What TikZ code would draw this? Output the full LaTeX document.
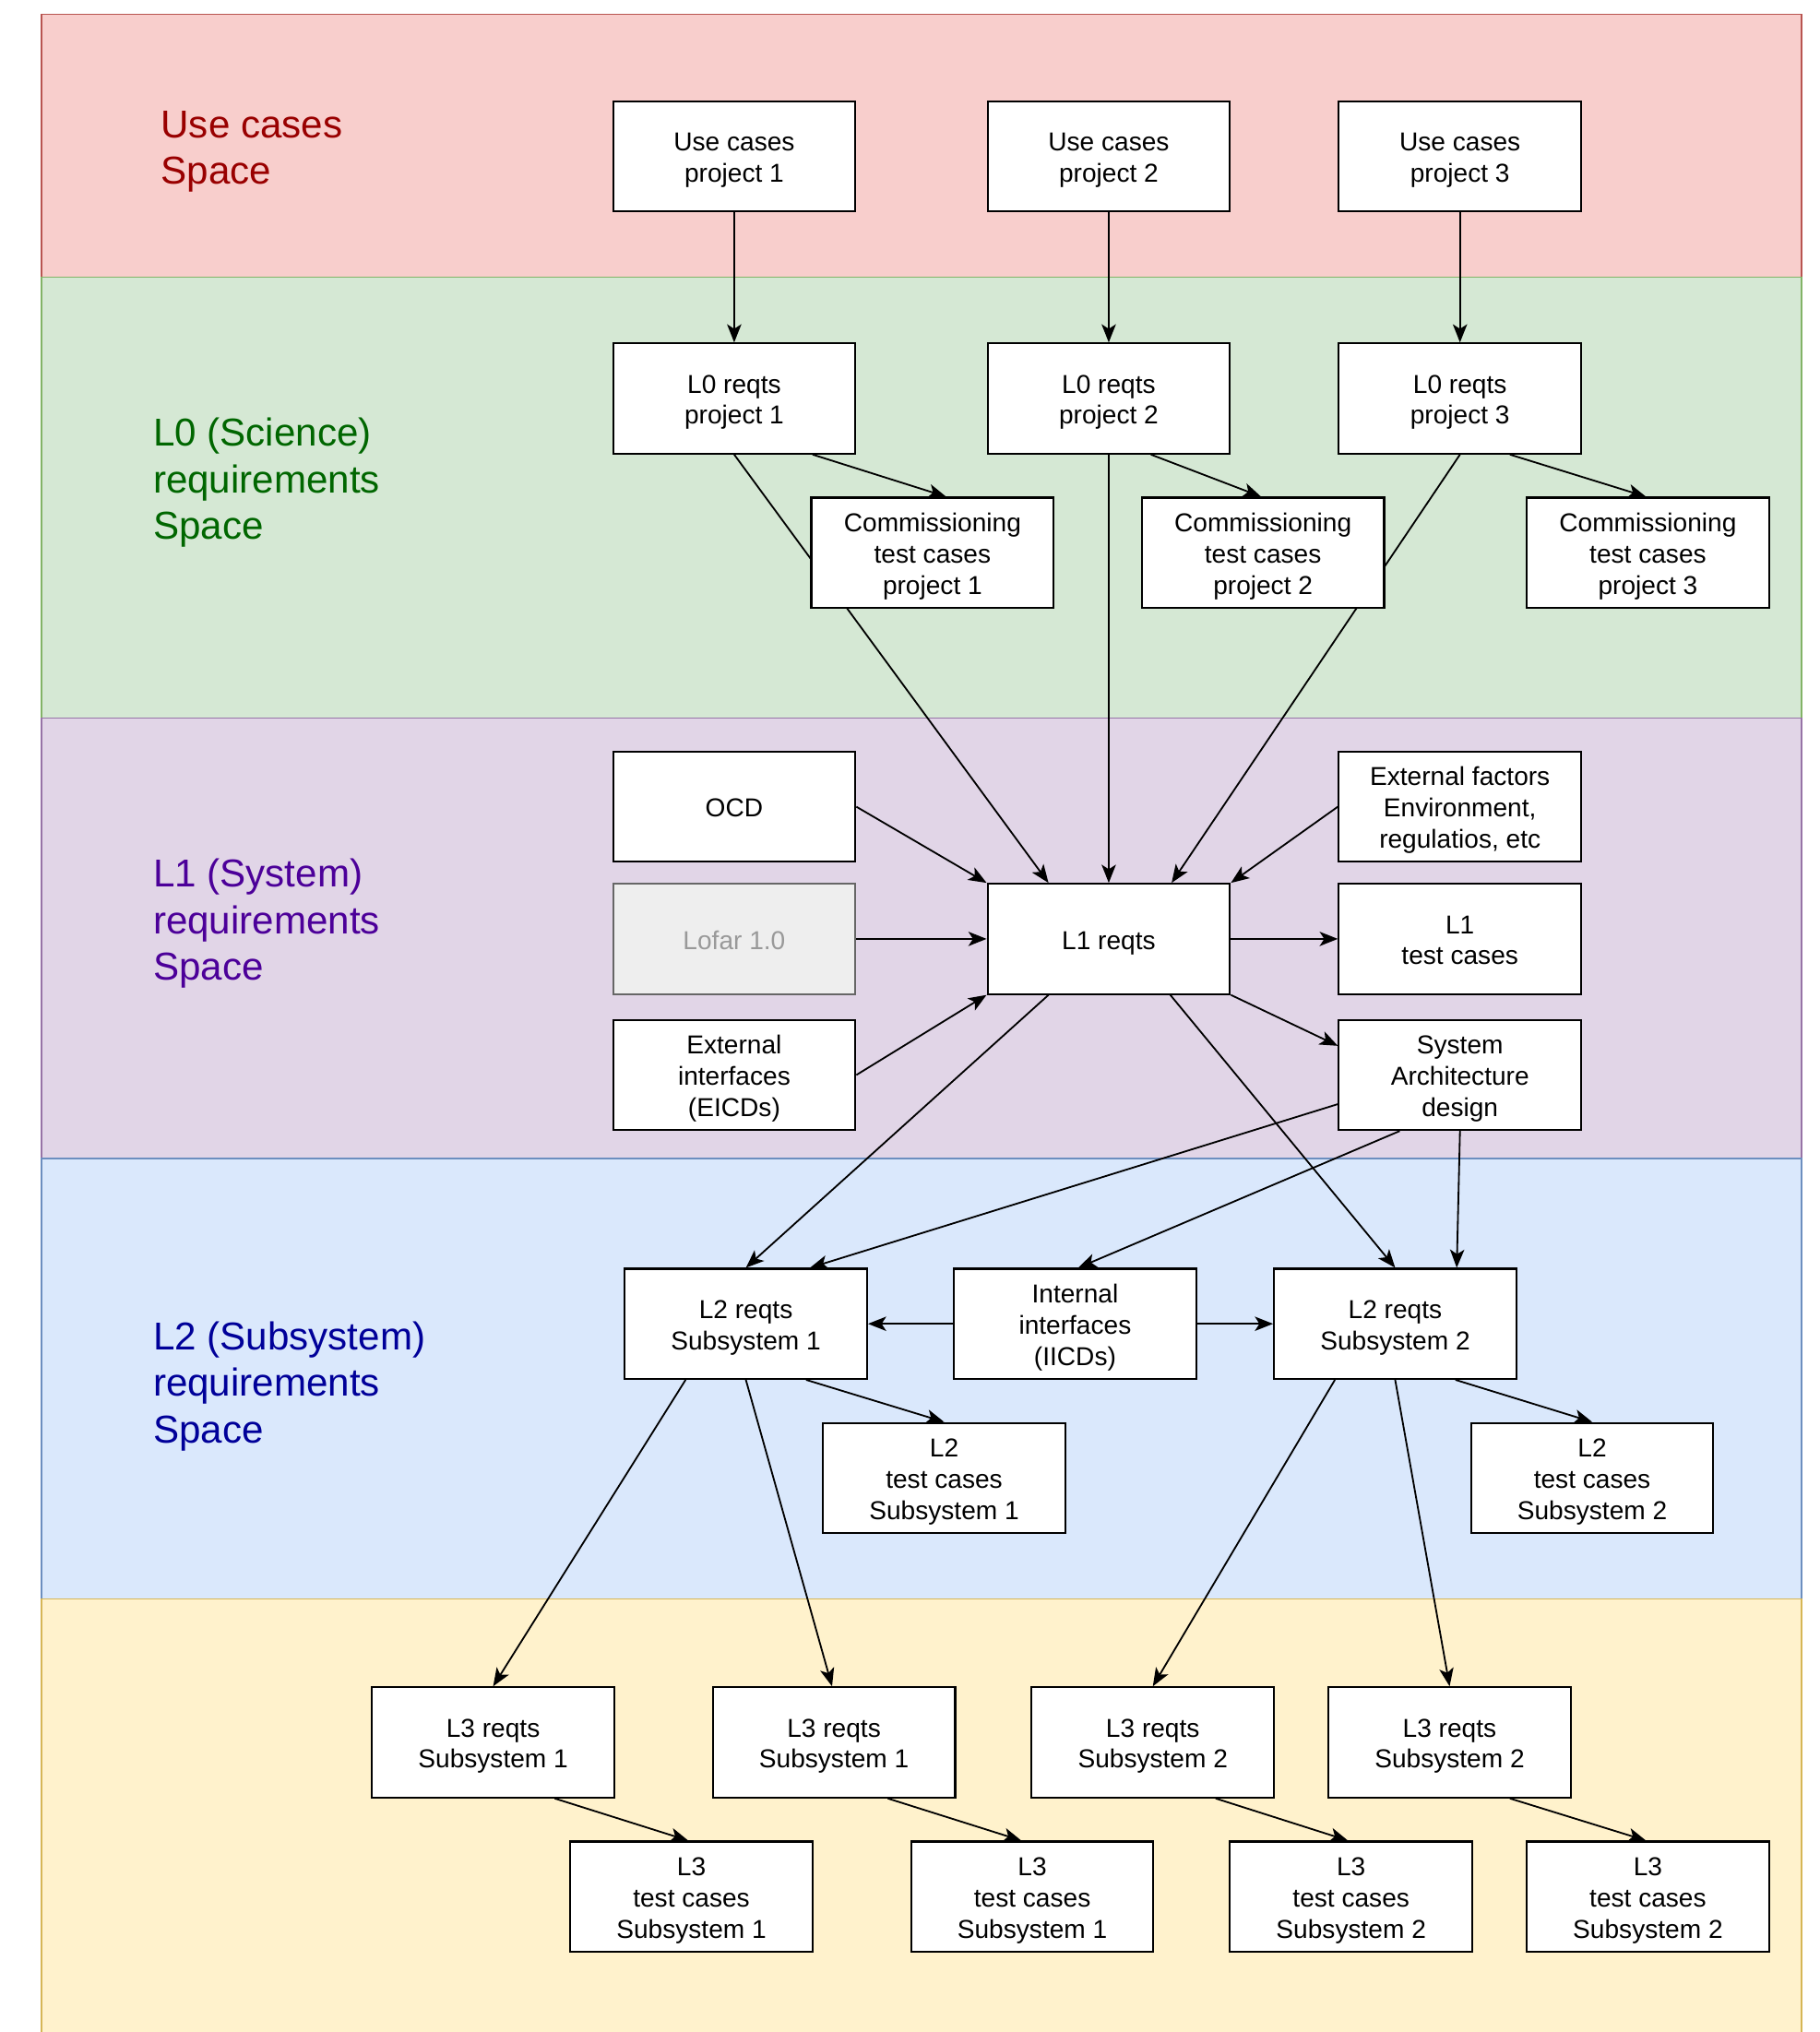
\documentclass[tikz,border=0pt]{standalone}
\usepackage{fontspec}
\setmainfont{Liberation Sans}
\usetikzlibrary{arrows.meta}
\pgfdeclarelayer{bands}
\pgfdeclarelayer{edges}
\pgfsetlayers{bands,edges,main}
\definecolor{redfill}{HTML}{F8CECC}\definecolor{redline}{HTML}{B85450}
\definecolor{greenfill}{HTML}{D5E8D4}\definecolor{greenline}{HTML}{82B366}
\definecolor{purplefill}{HTML}{E1D5E7}\definecolor{purpleline}{HTML}{9673A6}
\definecolor{bluefill}{HTML}{DAE8FC}\definecolor{blueline}{HTML}{6C8EBF}
\definecolor{yellowfill}{HTML}{FFF2CC}\definecolor{yellowline}{HTML}{D6B656}
\definecolor{redtext}{HTML}{990000}
\definecolor{greentext}{HTML}{006600}
\definecolor{purpletext}{HTML}{4C0099}
\definecolor{bluetext}{HTML}{000099}
\definecolor{grayfill}{HTML}{EEEEEE}\definecolor{grayline}{HTML}{666666}
\definecolor{graytext}{HTML}{999999}
\tikzset{
  box/.style={draw=black, fill=white, line width=1.5pt, minimum width=187pt, minimum height=85pt,
    inner sep=0pt, align=center, font=\fontsize{20}{24}\selectfont,
    text height=20pt, text depth=4.2pt},
  lines2/.style={text height=44pt},
  lines3/.style={text height=68pt},
  graybox/.style={box, fill=grayfill, draw=grayline, text=graytext},
  bandlabel/.style={anchor=west, align=left, inner sep=0pt, font=\fontsize{30}{36}\selectfont,
    text depth=6.3pt},
  lab2/.style={bandlabel, text height=63pt},
  lab3/.style={bandlabel, text height=99pt},
  conn/.style={line width=1.3pt, -{Stealth[length=14pt,width=11pt,inset=3.5pt]}}
}
\begin{document}
\begin{tikzpicture}[x=1pt,y=-1pt]
\useasboundingbox (0,0) rectangle (1404,1568);
\begin{pgfonlayer}{bands}
\fill[white] (0,0) rectangle (1404,1568);
\draw[fill=redfill, draw=redline, line width=1pt] (32,11) rectangle (1390,214);
\draw[fill=greenfill, draw=greenline, line width=1pt] (32,214) rectangle (1390,554);
\draw[fill=purplefill, draw=purpleline, line width=1pt] (32,554) rectangle (1390,894);
\draw[fill=bluefill, draw=blueline, line width=1pt] (32,894) rectangle (1390,1234);
\fill[yellowfill] (32,1234) rectangle (1390,1568);
\draw[yellowline, line width=1pt] (32,1568) -- (32,1234) -- (1390,1234) -- (1390,1568);
\end{pgfonlayer}

% band labels
\node[lab2, text=redtext] (lblUC) at (124,114) {Use cases\\Space};
\node[lab3, text=greentext] (lblL0) at (118,370) {L0 (Science)\\requirements\\Space};
\node[lab3, text=purpletext] (lblL1) at (118,710) {L1 (System)\\requirements\\Space};
\node[lab3, text=bluetext] (lblL2) at (118,1067) {L2 (Subsystem)\\requirements\\Space};

% use cases
\node[box, lines2] (UC1) at (566.5,120.5) {Use cases\\project 1};
\node[box, lines2] (UC2) at (855.5,120.5) {Use cases\\project 2};
\node[box, lines2] (UC3) at (1126.5,120.5) {Use cases\\project 3};
% L0
\node[box, lines2] (L01) at (566.5,307.5) {L0 reqts\\project 1};
\node[box, lines2] (L02) at (855.5,307.5) {L0 reqts\\project 2};
\node[box, lines2] (L03) at (1126.5,307.5) {L0 reqts\\project 3};
\node[box, lines3] (CT1) at (719.5,426.5) {Commissioning\\test cases\\project 1};
\node[box, lines3] (CT2) at (974.5,426.5) {Commissioning\\test cases\\project 2};
\node[box, lines3] (CT3) at (1271.5,426.5) {Commissioning\\test cases\\project 3};
% L1
\node[box] (OCD) at (566.5,622.5) {OCD};
\node[graybox] (LOF) at (566.5,724.5) {Lofar 1.0};
\node[box, lines3] (EXI) at (566.5,829.5) {External\\interfaces\\(EICDs)};
\node[box] (L1) at (855.5,724.5) {L1 reqts};
\node[box, lines3] (EXF) at (1126.5,622.5) {External factors\\Environment,\\regulatios, etc};
\node[box, lines2] (L1T) at (1126.5,724.5) {L1\\test cases};
\node[box, lines3] (SAD) at (1126.5,829.5) {System\\Architecture\\design};
% L2
\node[box, lines2] (L2A) at (575.5,1021.5) {L2 reqts\\Subsystem 1};
\node[box, lines3] (IIC) at (829.5,1021.5) {Internal\\interfaces\\(IICDs)};
\node[box, lines2] (L2B) at (1076.5,1021.5) {L2 reqts\\Subsystem 2};
\node[box, lines3] (L2TA) at (728.5,1140.5) {L2\\test cases\\Subsystem 1};
\node[box, lines3] (L2TB) at (1228.5,1140.5) {L2\\test cases\\Subsystem 2};
% L3
\node[box, lines2] (L3A) at (380.5,1344.5) {L3 reqts\\Subsystem 1};
\node[box, lines2] (L3B) at (643.5,1344.5) {L3 reqts\\Subsystem 1};
\node[box, lines2] (L3C) at (889.5,1344.5) {L3 reqts\\Subsystem 2};
\node[box, lines2] (L3D) at (1118.5,1344.5) {L3 reqts\\Subsystem 2};
\node[box, lines3] (L3TA) at (533.5,1463.5) {L3\\test cases\\Subsystem 1};
\node[box, lines3] (L3TB) at (796.5,1463.5) {L3\\test cases\\Subsystem 1};
\node[box, lines3] (L3TC) at (1042.5,1463.5) {L3\\test cases\\Subsystem 2};
\node[box, lines3] (L3TD) at (1271.5,1463.5) {L3\\test cases\\Subsystem 2};

\begin{pgfonlayer}{edges}
\draw[conn] (UC1.south) -- (L01.north);
\draw[conn] (UC2.south) -- (L02.north);
\draw[conn] (UC3.south) -- (L03.north);
\draw[conn] ([xshift=60.5pt]L01.south) -- ([xshift=10.5pt]CT1.north);
\draw[conn] ([xshift=32.5pt]L02.south) -- ([xshift=-1.5pt]CT2.north);
\draw[conn] ([xshift=38.5pt]L03.south) -- ([xshift=-1.5pt]CT3.north);
\draw[conn] (L01.south) -- ([xshift=-46.5pt]L1.north);
\draw[conn] (L02.south) -- (L1.north);
\draw[conn] (L03.south) -- ([xshift=48.5pt]L1.north);
\draw[conn] (OCD.east) -- (L1.north west);
\draw[conn] (LOF.east) -- (L1.west);
\draw[conn] (EXI.east) -- (L1.south west);
\draw[conn] (EXF.west) -- (L1.north east);
\draw[conn] (L1.east) -- (L1T.west);
\draw[conn] (L1.south east) -- ([yshift=22.5pt]SAD.west);
\draw[conn] ([xshift=-46.5pt]L1.south) -- (L2A.north);
\draw[conn] ([xshift=47.5pt]L1.south) -- (L2B.north);
\draw[conn] ([yshift=-22.5pt]SAD.west) -- ([xshift=49.5pt]L2A.north);
\draw[conn] ([xshift=-46.5pt]SAD.south) -- ([xshift=2.5pt]IIC.north);
\draw[conn] (SAD.south) -- ([xshift=47.5pt]L2B.north);
\draw[conn] (IIC.west) -- (L2A.east);
\draw[conn] (IIC.east) -- (L2B.west);
\draw[conn] ([xshift=46.5pt]L2A.south) -- (L2TA.north);
\draw[conn] ([xshift=46.5pt]L2B.south) -- (L2TB.north);
\draw[conn] ([xshift=-46.5pt]L2A.south) -- (L3A.north);
\draw[conn] (L2A.south) -- ([xshift=-1.5pt]L3B.north);
\draw[conn] ([xshift=-46.5pt]L2B.south) -- (L3C.north);
\draw[conn] (L2B.south) -- (L3D.north);
\draw[conn] ([xshift=47.5pt]L3A.south) -- ([xshift=-2.5pt]L3TA.north);
\draw[conn] ([xshift=41.5pt]L3B.south) -- ([xshift=-8.5pt]L3TB.north);
\draw[conn] ([xshift=48.5pt]L3C.south) -- ([xshift=-2.5pt]L3TC.north);
\draw[conn] ([xshift=46.5pt]L3D.south) -- ([xshift=-1.5pt]L3TD.north);
\end{pgfonlayer}
\end{tikzpicture}
\end{document}
